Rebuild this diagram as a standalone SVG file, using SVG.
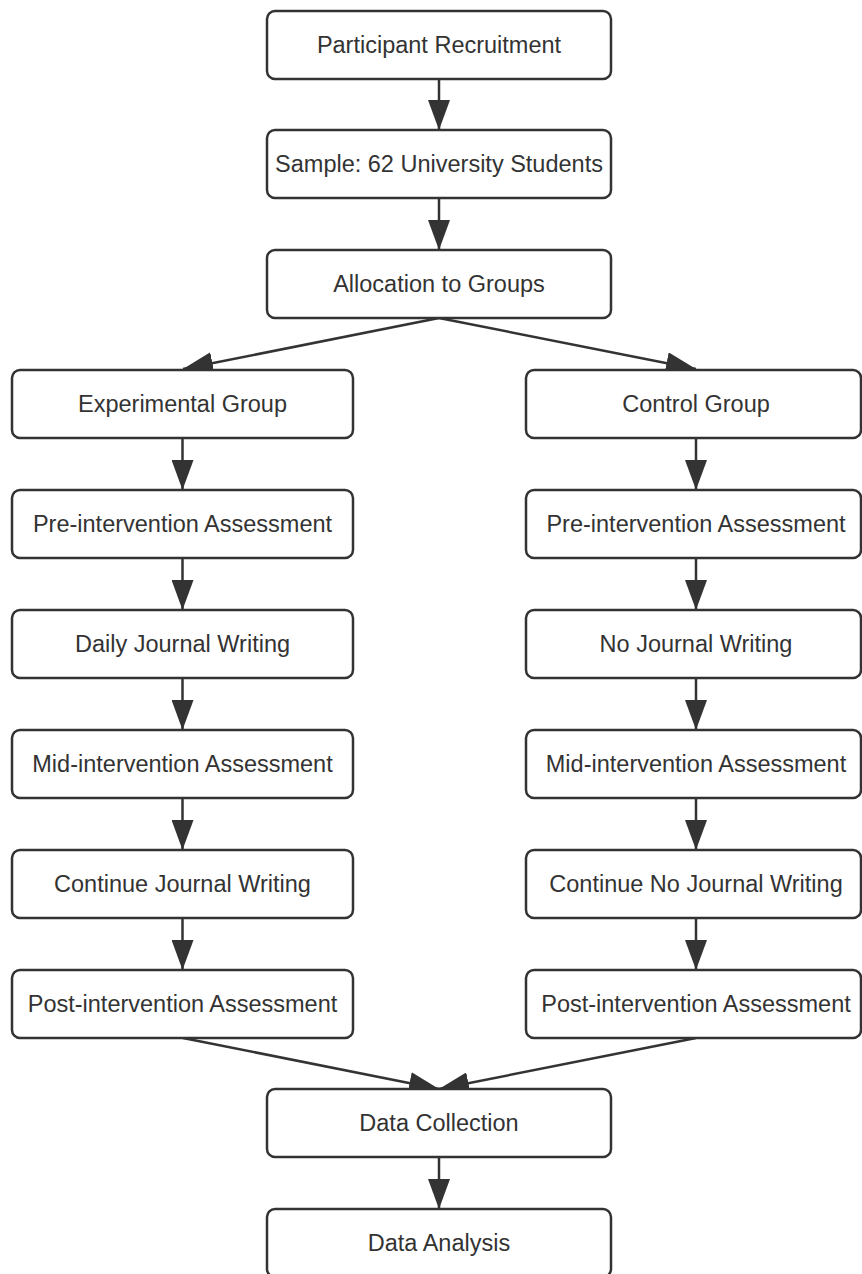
<svg xmlns="http://www.w3.org/2000/svg" width="862" height="1274" viewBox="0 0 862 1274">
  <style>
    .box { fill: #ffffff; stroke: #333333; stroke-width: 2.5; }
    .label { font-family: "Liberation Sans", Arial, sans-serif; font-size: 23.5px; fill: #333333; text-anchor: middle; }
    .edge { fill: none; stroke: #333333; stroke-width: 2.5; marker-end: url(#arrow); }
  </style>
  <defs>
    <marker id="arrow" markerUnits="userSpaceOnUse" markerWidth="30" markerHeight="22" viewBox="0 0 30 22" refX="30" refY="11" orient="auto">
      <path d="M0,0 L30,11 L0,22 Z" fill="#333333"/>
    </marker>
  </defs>
  <rect width="862" height="1274" fill="#ffffff"/>

  <!-- connectors -->
  <g id="connectors">
    <path class="edge" d="M439,79 L439,130"/>
    <path class="edge" d="M439,198 L439,250"/>
    <path class="edge" d="M439,318 L183,369"/>
    <path class="edge" d="M439,318 L696,369"/>
    <path class="edge" d="M182.5,438 L182.5,490"/>
    <path class="edge" d="M182.5,558 L182.5,610"/>
    <path class="edge" d="M182.5,678 L182.5,730"/>
    <path class="edge" d="M182.5,798 L182.5,850"/>
    <path class="edge" d="M182.5,918 L182.5,970"/>
    <path class="edge" d="M696,438 L696,490"/>
    <path class="edge" d="M696,558 L696,610"/>
    <path class="edge" d="M696,678 L696,730"/>
    <path class="edge" d="M696,798 L696,850"/>
    <path class="edge" d="M696,918 L696,970"/>
    <path class="edge" d="M183,1038 L439,1089"/>
    <path class="edge" d="M696,1038 L439,1089"/>
    <path class="edge" d="M439,1157 L439,1209"/>
  </g>

  <!-- centre column -->
  <g id="recruitment">
    <rect class="box" x="267" y="11" width="344" height="68" rx="8"/>
    <text class="label" x="439" y="53">Participant Recruitment</text>
  </g>
  <g id="sample">
    <rect class="box" x="267" y="130" width="344" height="68" rx="8"/>
    <text class="label" x="439" y="172">Sample: 62 University Students</text>
  </g>
  <g id="allocation">
    <rect class="box" x="267" y="250" width="344" height="68" rx="8"/>
    <text class="label" x="439" y="292">Allocation to Groups</text>
  </g>

  <!-- experimental arm -->
  <g id="exp-group">
    <rect class="box" x="12" y="370" width="341" height="68" rx="8"/>
    <text class="label" x="182.5" y="412">Experimental Group</text>
  </g>
  <g id="exp-pre">
    <rect class="box" x="12" y="490" width="341" height="68" rx="8"/>
    <text class="label" x="182.5" y="532">Pre-intervention Assessment</text>
  </g>
  <g id="exp-daily">
    <rect class="box" x="12" y="610" width="341" height="68" rx="8"/>
    <text class="label" x="182.5" y="652">Daily Journal Writing</text>
  </g>
  <g id="exp-mid">
    <rect class="box" x="12" y="730" width="341" height="68" rx="8"/>
    <text class="label" x="182.5" y="772">Mid-intervention Assessment</text>
  </g>
  <g id="exp-continue">
    <rect class="box" x="12" y="850" width="341" height="68" rx="8"/>
    <text class="label" x="182.5" y="892">Continue Journal Writing</text>
  </g>
  <g id="exp-post">
    <rect class="box" x="12" y="970" width="341" height="68" rx="8"/>
    <text class="label" x="182.5" y="1012">Post-intervention Assessment</text>
  </g>

  <!-- control arm -->
  <g id="ctl-group">
    <rect class="box" x="526" y="370" width="335" height="68" rx="8"/>
    <text class="label" x="696" y="412">Control Group</text>
  </g>
  <g id="ctl-pre">
    <rect class="box" x="526" y="490" width="335" height="68" rx="8"/>
    <text class="label" x="696" y="532">Pre-intervention Assessment</text>
  </g>
  <g id="ctl-none">
    <rect class="box" x="526" y="610" width="335" height="68" rx="8"/>
    <text class="label" x="696" y="652">No Journal Writing</text>
  </g>
  <g id="ctl-mid">
    <rect class="box" x="526" y="730" width="335" height="68" rx="8"/>
    <text class="label" x="696" y="772">Mid-intervention Assessment</text>
  </g>
  <g id="ctl-continue">
    <rect class="box" x="526" y="850" width="335" height="68" rx="8"/>
    <text class="label" x="696" y="892">Continue No Journal Writing</text>
  </g>
  <g id="ctl-post">
    <rect class="box" x="526" y="970" width="335" height="68" rx="8"/>
    <text class="label" x="696" y="1012">Post-intervention Assessment</text>
  </g>

  <!-- merge -->
  <g id="collection">
    <rect class="box" x="267" y="1089" width="344" height="68" rx="8"/>
    <text class="label" x="439" y="1131">Data Collection</text>
  </g>
  <g id="analysis">
    <rect class="box" x="267" y="1209" width="344" height="68" rx="8"/>
    <text class="label" x="439" y="1251">Data Analysis</text>
  </g>
</svg>
